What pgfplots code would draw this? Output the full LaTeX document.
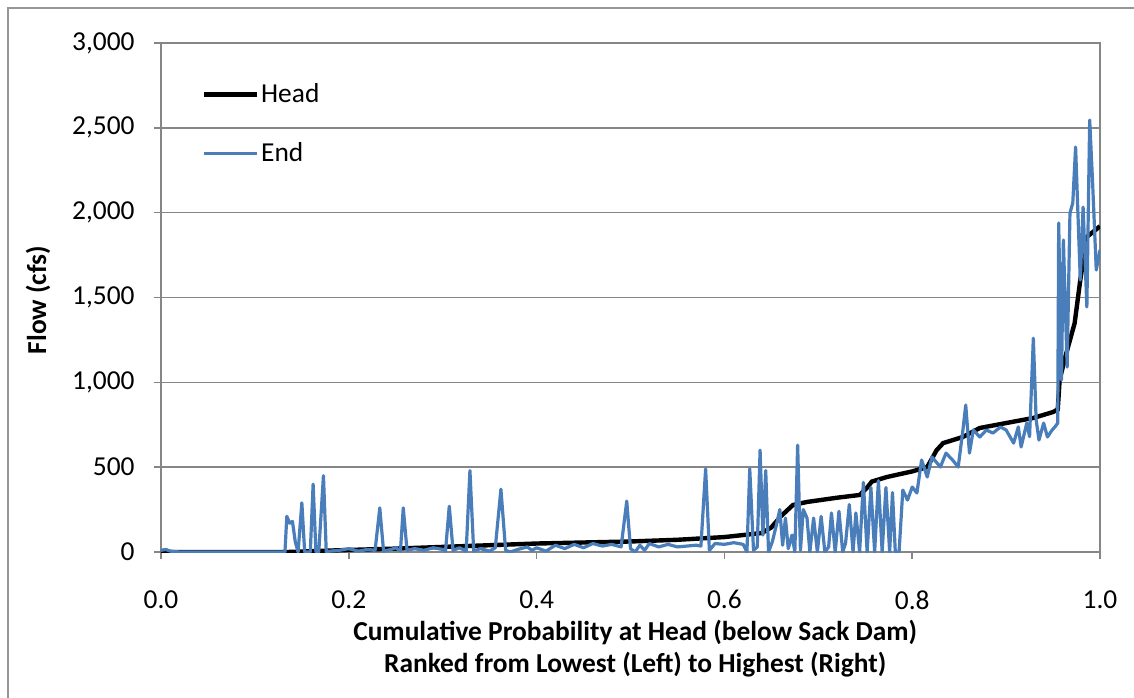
\documentclass[border=0pt]{standalone}
\usepackage{fontspec}
\setmainfont{Carlito}
\usepackage{pgfplots}
\pgfplotsset{compat=1.18}
\definecolor{gridgray}{RGB}{134,134,134}
\definecolor{endblue}{RGB}{74,126,187}
\definecolor{framegray}{RGB}{150,150,150}
\begin{document}
\begin{tikzpicture}
\useasboundingbox (-80.5bp,-73bp) rectangle (486.5bp,276bp);
\draw[framegray, line width=1bp] (-76.5bp,-73bp) -- (-76.5bp,272bp) -- (486.5bp,272bp);
\begin{axis}[
  at={(0,0)}, anchor=south west,
  scale only axis, width=469.5bp, height=254.5bp,
  xmin=0, xmax=1, ymin=0, ymax=3000,
  xtick={0,0.2,0.4,0.6,0.8,1.0},
  ytick={0,500,1000,1500,2000,2500,3000},
  font=\fontsize{13.75}{16.3}\selectfont,
  /pgf/number format/assume math mode=true,
  xticklabel style={/pgf/number format/fixed, /pgf/number format/fixed zerofill, /pgf/number format/precision=1},
  yticklabel style={/pgf/number format/1000 sep={,}},
  scaled ticks=false,
  tick align=outside, major tick length=3.5bp,
  xtick pos=bottom, ytick pos=left,
  axis line style={gridgray, line width=0.75bp},
  tick style={gridgray, line width=0.75bp},
  ymajorgrids, grid style={gridgray, line width=0.75bp},
  yticklabel style={inner sep=0pt, anchor=east, xshift=-9.5bp},
  xticklabel style={inner sep=0pt, anchor=north, yshift=-15.5bp},
  ylabel={\textbf{Flow (cfs)}},
  ylabel style={at={(axis description cs:-0.131,0.495)}, anchor=center},
  xlabel={\textbf{Cumulative Probability at Head (below Sack Dam)}\\\textbf{Ranked from Lowest (Left) to Highest (Right)}},
  xlabel style={align=center, at={(axis description cs:0.505,-0.133)}, anchor=north, inner sep=0pt},
  legend style={draw=none, fill=none, at={(axis description cs:0.043,0.925)}, anchor=north west, inner sep=0pt, row sep=16.5bp, font=\fontsize{13.75}{16.3}\selectfont, nodes={inner sep=1bp}},
  legend cell align=left,
  legend image code/.code={\draw[#1] (0bp,0bp) -- (26.5bp,0bp);},
]
\addplot[black, line width=2.2bp] coordinates {
(0,0)(0.135,0)(0.15,3)(0.2,12)(0.25,20)(0.3,30)(0.35,40)(0.4,50)(0.45,56)(0.5,62)(0.55,72)(0.6,88)(0.62,100)(0.64,112)(0.65,145)(0.66,210)(0.673,277)(0.688,295)(0.72,320)(0.744,336)(0.752,380)(0.757,415)(0.773,442)(0.8,475)(0.816,501)(0.826,600)(0.833,642)(0.854,678)(0.872,731)(0.9,760)(0.929,790)(0.95,825)(0.955,840)(0.957,1014)(0.963,1149)(0.968,1249)(0.973,1349)(0.979,1603)(0.986,1857)(1.0,1920)
};
\addlegendentry{Head}
\addplot[endblue, line width=1.6bp, line join=round] coordinates {
(0,10)(0.005,15)(0.01,5)(0.02,0)(0.13,0)
(0.132,0)(0.134,210)(0.137,170)(0.140,180)(0.143,60)(0.146,0)(0.150,290)(0.153,0)(0.156,0)(0.159,0)(0.162,400)(0.165,0)(0.168,0)(0.173,450)(0.176,0)
(0.18,5)(0.19,10)(0.2,20)(0.21,5)(0.22,15)(0.228,10)(0.233,260)(0.237,5)(0.245,15)(0.25,25)(0.255,5)(0.258,260)(0.262,10)(0.27,20)(0.28,10)(0.29,25)(0.3,15)(0.303,5)(0.307,270)(0.311,10)(0.318,25)(0.325,5)(0.329,480)(0.333,5)(0.34,20)(0.35,5)(0.356,25)(0.362,370)(0.367,10)(0.372,0)(0.38,15)(0.39,30)(0.395,10)(0.4,25)(0.41,5)(0.42,40)(0.43,20)(0.44,45)(0.45,25)(0.46,50)(0.47,35)(0.48,45)(0.49,30)(0.496,300)(0.5,20)(0.505,0)(0.51,40)(0.515,10)(0.52,50)(0.53,30)(0.54,45)(0.55,30)(0.56,35)(0.57,40)(0.575,35)(0.580,490)(0.584,10)(0.59,50)(0.6,45)(0.61,55)(0.62,45)
(0.624,0)(0.627,490)(0.631,10)(0.635,30)(0.638,600)(0.641,100)(0.644,480)(0.647,0)(0.651,60)(0.655,150)(0.659,250)(0.662,40)(0.665,200)(0.668,20)(0.672,100)(0.675,0)(0.678,630)(0.681,10)(0.684,250)(0.688,200)(0.691,0)(0.695,200)(0.699,0)(0.703,210)(0.707,0)(0.711,30)(0.714,230)(0.718,0)(0.722,240)(0.726,0)(0.729,50)(0.733,280)(0.737,0)(0.74,230)(0.744,0)(0.748,410)(0.752,0)(0.756,380)(0.76,0)(0.764,420)(0.768,0)(0.772,380)(0.776,0)(0.779,350)(0.782,0)(0.786,0)
(0.79,365)(0.795,306)(0.8,383)(0.805,348)(0.81,542)(0.816,442)(0.821,560)(0.83,501)(0.836,583)(0.843,542)(0.849,501)(0.854,719)(0.857,866)(0.861,583)(0.865,719)(0.872,678)(0.879,719)(0.886,701)(0.894,737)(0.9,719)(0.908,642)(0.913,737)(0.916,619)(0.922,760)(0.925,680)(0.929,1260)(0.932,778)(0.935,660)(0.94,760)(0.944,678)(0.949,719)(0.952,737)(0.955,760)(0.956,1939)(0.959,1014)(0.961,1839)(0.965,1090)(0.968,1998)(0.971,2057)(0.974,2387)(0.979,1603)(0.982,2033)(0.986,1444)(0.989,2546)(0.992,2193)(0.996,1662)(1.0,1780)
};
\addlegendentry{End}
\end{axis}
\end{tikzpicture}
\end{document}
